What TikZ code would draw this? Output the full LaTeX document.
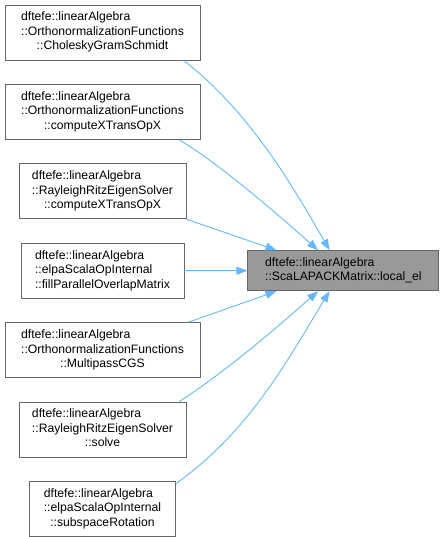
\documentclass[tikz,border=0pt]{standalone}
\usepackage{fontspec}
\setmainfont{Liberation Sans}
\usetikzlibrary{arrows.meta, positioning}

\definecolor{edgeblue}{HTML}{63B8FF}
\definecolor{boxgray}{HTML}{666666}
\definecolor{calleefill}{HTML}{999999}

\newcommand{\fnlabel}[3]{\begin{tabular}{@{}l@{}}#1\\#2\\\multicolumn{1}{@{}c@{}}{#3}\end{tabular}}

\begin{document}
\begin{tikzpicture}[
    x=1pt, y=1pt,
    node distance=23.5pt,
    fnnode/.style={rectangle, draw=boxgray, fill=white, line width=0.9pt, minimum height=55pt, inner sep=0pt, font=\fontsize{12.2}{14.5}\selectfont},
    calleenode/.style={fnnode, fill=calleefill, minimum height=40pt},
    calledge/.style={-{Triangle[length=11pt, width=8pt]}, edgeblue, line width=0.9pt}
  ]
  \useasboundingbox (0,0) rectangle (441,-537);

  \node[fnnode, minimum width=195pt] (chol) at (102.5,-32.5) {\fnlabel{dftefe::linearAlgebra}{::OrthonormalizationFunctions}{::CholeskyGramSchmidt}};
  \node[fnnode, minimum width=195pt, below=of chol] (onxtox) {\fnlabel{dftefe::linearAlgebra}{::OrthonormalizationFunctions}{::computeXTransOpX}};
  \node[fnnode, minimum width=167pt, below=of onxtox] (rrxtox) {\fnlabel{dftefe::linearAlgebra}{::RayleighRitzEigenSolver}{::computeXTransOpX}};
  \node[fnnode, minimum width=163pt, below=of rrxtox] (fillovl) {\fnlabel{dftefe::linearAlgebra}{::elpaScalaOpInternal}{::fillParallelOverlapMatrix}};
  \node[fnnode, minimum width=195pt, below=of fillovl] (mpcgs) {\fnlabel{dftefe::linearAlgebra}{::OrthonormalizationFunctions}{::MultipassCGS}};
  \node[fnnode, minimum width=167pt, below=of mpcgs] (rrsolve) {\fnlabel{dftefe::linearAlgebra}{::RayleighRitzEigenSolver}{::solve}};
  \node[fnnode, minimum width=146pt, below=of rrsolve] (subrot) {\fnlabel{dftefe::linearAlgebra}{::elpaScalaOpInternal}{::subspaceRotation}};

  \node[calleenode, minimum width=191pt, right=63pt of fillovl] (localel) {\begin{tabular}{@{}l@{}}dftefe::linearAlgebra\\::ScaLAPACKMatrix::local\_el\end{tabular}};

  % Callers above
  \draw[calledge] (chol.-19) .. controls (250,-112) and (292,-185) .. (localel.124);
  \draw[calledge] (onxtox.-20) .. controls (220.5,-164.5) and (279,-215.5) .. (localel.141);
  \draw[calledge] (rrxtox.south east) -- (localel.163);

  % Caller in line
  \draw[calledge] (fillovl.east) -- (localel.west);

  % Callers below
  \draw[calledge] (mpcgs.18) -- (localel.-163);
  \draw[calledge] (rrsolve.20) .. controls (233.5,-366) and (281,-323.5) .. (localel.-141);
  \draw[calledge] (subrot.19) .. controls (250.6,-430.4) and (288,-359) .. (localel.-124);

\end{tikzpicture}
\end{document}
